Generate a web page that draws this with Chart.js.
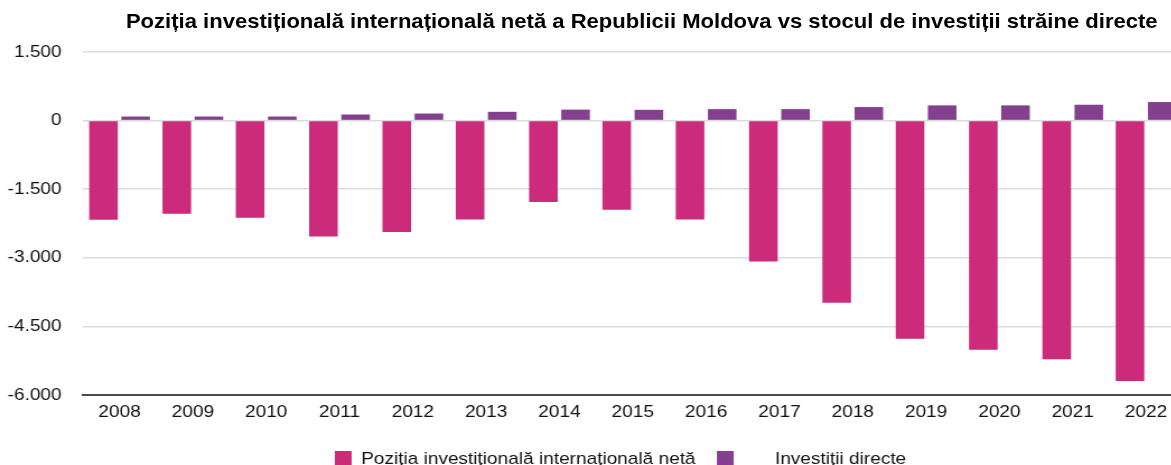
<!DOCTYPE html>
<html>
<head>
<meta charset="utf-8">
<script src="https://cdn.jsdelivr.net/npm/chart.js@4"></script>
<style>
  html, body { margin: 0; padding: 0; background: #fff; overflow: hidden; }
  #wrap { position: relative; width: 1056px; height: 465px; transform: scaleX(1.12); transform-origin: 0 0; }
  #title { position: absolute; left: 0; top: 10px; width: 1146px; text-align: center; line-height: 20px;
           font: bold 19.7px "Liberation Sans", Arial, sans-serif; color: #000; white-space: nowrap; }
</style>
</head>
<body>
<div id="wrap">
  <canvas id="c" width="1056" height="465"></canvas>
  <div id="title">Poziția investițională internațională netă a Republicii Moldova vs stocul de investiții străine directe</div>
</div>
<script>
// ===== PII netă vs stoc ISD =====
const years = ['2008', '2009', '2010', '2011', '2012', '2013', '2014', '2015', '2016', '2017', '2018', '2019', '2020', '2021', '2022'];
const piiNeta = [-2168, -2035, -2124, -2532, -2436, -2161, -1779, -1949, -2162, -3081, -3985, -4771, -5012, -5217, -5693];
const investDirecte = [89, 89, 89, 133, 155, 192, 240, 236, 251, 251, 296, 333, 333, 347, 406];
const yTicks = [-6000, -4500, -3000, -1500, 0, 1500];

const FONT = '"Liberation Sans", Arial, sans-serif';
const fmtTick = v => (v < 0 ? '-' : '') + String(Math.abs(v)).replace(/\B(?=(\d{3})+(?!\d))/g, '.');

// legend sits a bit right of the canvas centre in the original
const shiftLegend = {
    id: 'shiftLegend',
    afterLayout(chart) { chart.legend.left += 26; chart.legend.right += 26; }
};

const ctx = document.getElementById('c').getContext('2d');
new Chart(ctx, {
    type: 'bar',
    data: { labels: years, datasets: [
        { label: 'Poziția investițională internațională netă', data: piiNeta, backgroundColor: '#CC2A7B', categoryPercentage: 0.877, barPercentage: 0.89 },
        { label: '      Investiții directe', data: investDirecte, backgroundColor: '#84408F', categoryPercentage: 0.877, barPercentage: 0.89 }
    ]},
    options: { responsive: false, animation: false, devicePixelRatio: 1,
        layout: { padding: { left: 0, right: 0, top: 52, bottom: -13 } },
        scales: {
            x: { grid: { display: false, drawTicks: false }, border: { display: true, color: '#4a4a4a', width: 2 },
                 afterFit: a => { a.height = 37; },
                 ticks: { color: '#111', padding: 7, font: { family: FONT, size: 17 } } },
            y: { min: -6000, max: 1500, afterBuildTicks: a => { a.ticks = yTicks.map(v => ({ value: v })); },
                 afterFit: a => { a.width = 74; },
                 grid: { color: '#dcdcdc', lineWidth: 1.5, drawTicks: false }, border: { display: false },
                 ticks: { color: '#111', padding: 19, font: { family: FONT, size: 17 }, callback: fmtTick } }
        },
        plugins: {
            legend: { position: 'bottom', labels: { boxWidth: 15, boxHeight: 17, padding: 19, color: '#111', font: { family: FONT, size: 17 } } },
            tooltip: { enabled: false }
        }
    },
    plugins: [shiftLegend]
});
</script>
</body>
</html>
